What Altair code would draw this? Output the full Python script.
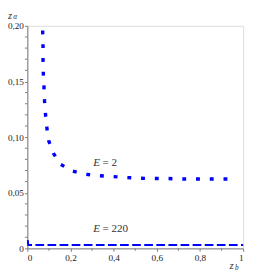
import altair as alt
import pandas as pd

# ---- data ----
e2_zb = [0.0709, 0.0710, 0.0726, 0.0726, 0.0739, 0.0770, 0.0796, 0.0839, 0.0900,
         0.0987, 0.1204, 0.1552, 0.2100, 0.2709, 0.3335, 0.3957, 0.4578, 0.5204,
         0.5839, 0.6478, 0.7100, 0.7739, 0.8378, 0.8987, 0.9622, 0.9709]
e2_za = [0.1958, 0.1939, 0.1818, 0.1697, 0.1577, 0.1451, 0.1330, 0.1210, 0.1090,
         0.0969, 0.0855, 0.0754, 0.0695, 0.0666, 0.0653, 0.0645, 0.0637, 0.0630,
         0.0628, 0.0628, 0.0624, 0.0624, 0.0624, 0.0624, 0.0624, 0.0624]

e220_zb = [0.002, 0.004, 0.010, 0.050, 0.200, 0.500, 0.800, 1.000]
e220_za = [0.0075, 0.0031, 0.0031, 0.0031, 0.0031, 0.0031, 0.0031, 0.0031]

x_major = [0, 0.2, 0.4, 0.6, 0.8, 1.0]
x_minor = [0.1, 0.3, 0.5, 0.7, 0.9]
y_major = [0, 0.05, 0.10, 0.15, 0.20]
y_minor = [0.01, 0.02, 0.03, 0.04, 0.06, 0.07, 0.08, 0.09,
           0.11, 0.12, 0.13, 0.14, 0.16, 0.17, 0.18, 0.19]

lab_E_text = ["E", "E"]
lab_rest_text = ["= 2", "= 220"]
lab_E_zb = [0.337, 0.337]
lab_rest_zb = [0.348, 0.348]
lab_za = [0.0765, 0.0176]

BLUE = "#0000ff"
AX = "#7a7a7a"
FONT = "Liberation Serif"

W, H = 223, 230

xs = alt.Scale(domain=[0, 1], nice=False, zero=False)
ys = alt.Scale(domain=[0, 0.2], nice=False, zero=False)

e2 = pd.DataFrame({"zb": e2_zb, "za": e2_za, "o": range(len(e2_zb))})
e220 = pd.DataFrame({"zb": e220_zb, "za": e220_za, "o": range(len(e220_zb))})

xlab = "datum.value == 0 ? '0' : datum.value == 1 ? '1' : replace(format(datum.value, '.1f'), '.', ',')"
ylab = "datum.value == 0 ? '0' : replace(format(datum.value, '.2f'), '.', ',')"

base_axes = alt.Chart(pd.DataFrame({"zb": [0, 1], "za": [0, 0.2]})).mark_point(opacity=0).encode(
    x=alt.X("zb:Q", scale=xs, axis=alt.Axis(values=x_major, labelExpr=xlab, title=None, grid=False,
                                             domainColor=AX, tickColor=AX, tickSize=3, labelPadding=2,
                                             labelFont=FONT, labelFontSize=9.5, labelColor="#222")),
    y=alt.Y("za:Q", scale=ys, axis=alt.Axis(values=y_major, labelExpr=ylab, title=None, grid=False,
                                             domainColor=AX, tickColor=AX, tickSize=3, labelPadding=1,
                                             labelFont=FONT, labelFontSize=9.5, labelColor="#222")),
)

xminor = alt.Chart(pd.DataFrame({"v": x_minor})).mark_rule(color=AX, strokeWidth=1).encode(
    x=alt.X("v:Q", scale=xs), y=alt.value(H), y2=alt.value(H + 2.5))
yminor = alt.Chart(pd.DataFrame({"v": y_minor})).mark_rule(color=AX, strokeWidth=1).encode(
    y=alt.Y("v:Q", scale=ys), x=alt.value(0), x2=alt.value(-2.5))

line220 = alt.Chart(e220).mark_line(color=BLUE, strokeWidth=2, strokeDash=[9, 3.5], strokeCap="butt").encode(
    x=alt.X("zb:Q", scale=xs), y=alt.Y("za:Q", scale=ys), order="o:Q")
line2 = alt.Chart(e2).mark_line(color=BLUE, strokeWidth=3.5, strokeDash=[4, 10.2], strokeCap="butt").encode(
    x=alt.X("zb:Q", scale=xs), y=alt.Y("za:Q", scale=ys), order="o:Q")

labE = alt.Chart(pd.DataFrame({"t": lab_E_text, "zb": lab_E_zb, "za": lab_za})).mark_text(
    font=FONT, fontStyle="italic", fontSize=11.5, align="right", baseline="middle", color="#333").encode(
    x=alt.X("zb:Q", scale=xs), y=alt.Y("za:Q", scale=ys), text="t:N")
labR = alt.Chart(pd.DataFrame({"t": lab_rest_text, "zb": lab_rest_zb, "za": lab_za})).mark_text(
    font=FONT, fontSize=11.5, align="left", baseline="middle", color="#333").encode(
    x=alt.X("zb:Q", scale=xs), y=alt.Y("za:Q", scale=ys), text="t:N")

t_df = pd.DataFrame({"t": ["z"]})
za_z = alt.Chart(t_df).mark_text(font=FONT, fontStyle="italic", fontSize=11, align="left", color="#333").encode(
    x=alt.value(-20), y=alt.value(-10.5), text="t:N")
za_a = alt.Chart(pd.DataFrame({"t": ["α"]})).mark_text(font=FONT, fontStyle="italic", fontSize=7.5, align="left", color="#333").encode(
    x=alt.value(-14.5), y=alt.value(-9), text="t:N")
zb_z = alt.Chart(t_df).mark_text(font=FONT, fontStyle="italic", fontSize=11, align="left", color="#333").encode(
    x=alt.value(W - 14), y=alt.value(H + 18.5), text="t:N")
zb_b = alt.Chart(pd.DataFrame({"t": ["b"]})).mark_text(font=FONT, fontStyle="italic", fontSize=7.5, align="left", color="#333").encode(
    x=alt.value(W - 8.5), y=alt.value(H + 20.5), text="t:N")

chart = alt.layer(base_axes, xminor, yminor, line220, line2, labE, labR, za_z, za_a, zb_z, zb_b).properties(
    width=W, height=H,
    autosize=alt.AutoSizeParams(type="none"),
    padding={"left": 20, "top": 14, "right": 4, "bottom": 21},
).configure_view(stroke=None).configure(background="white")

chart.save("out.html", embed_options={"renderer": "svg", "actions": False})
